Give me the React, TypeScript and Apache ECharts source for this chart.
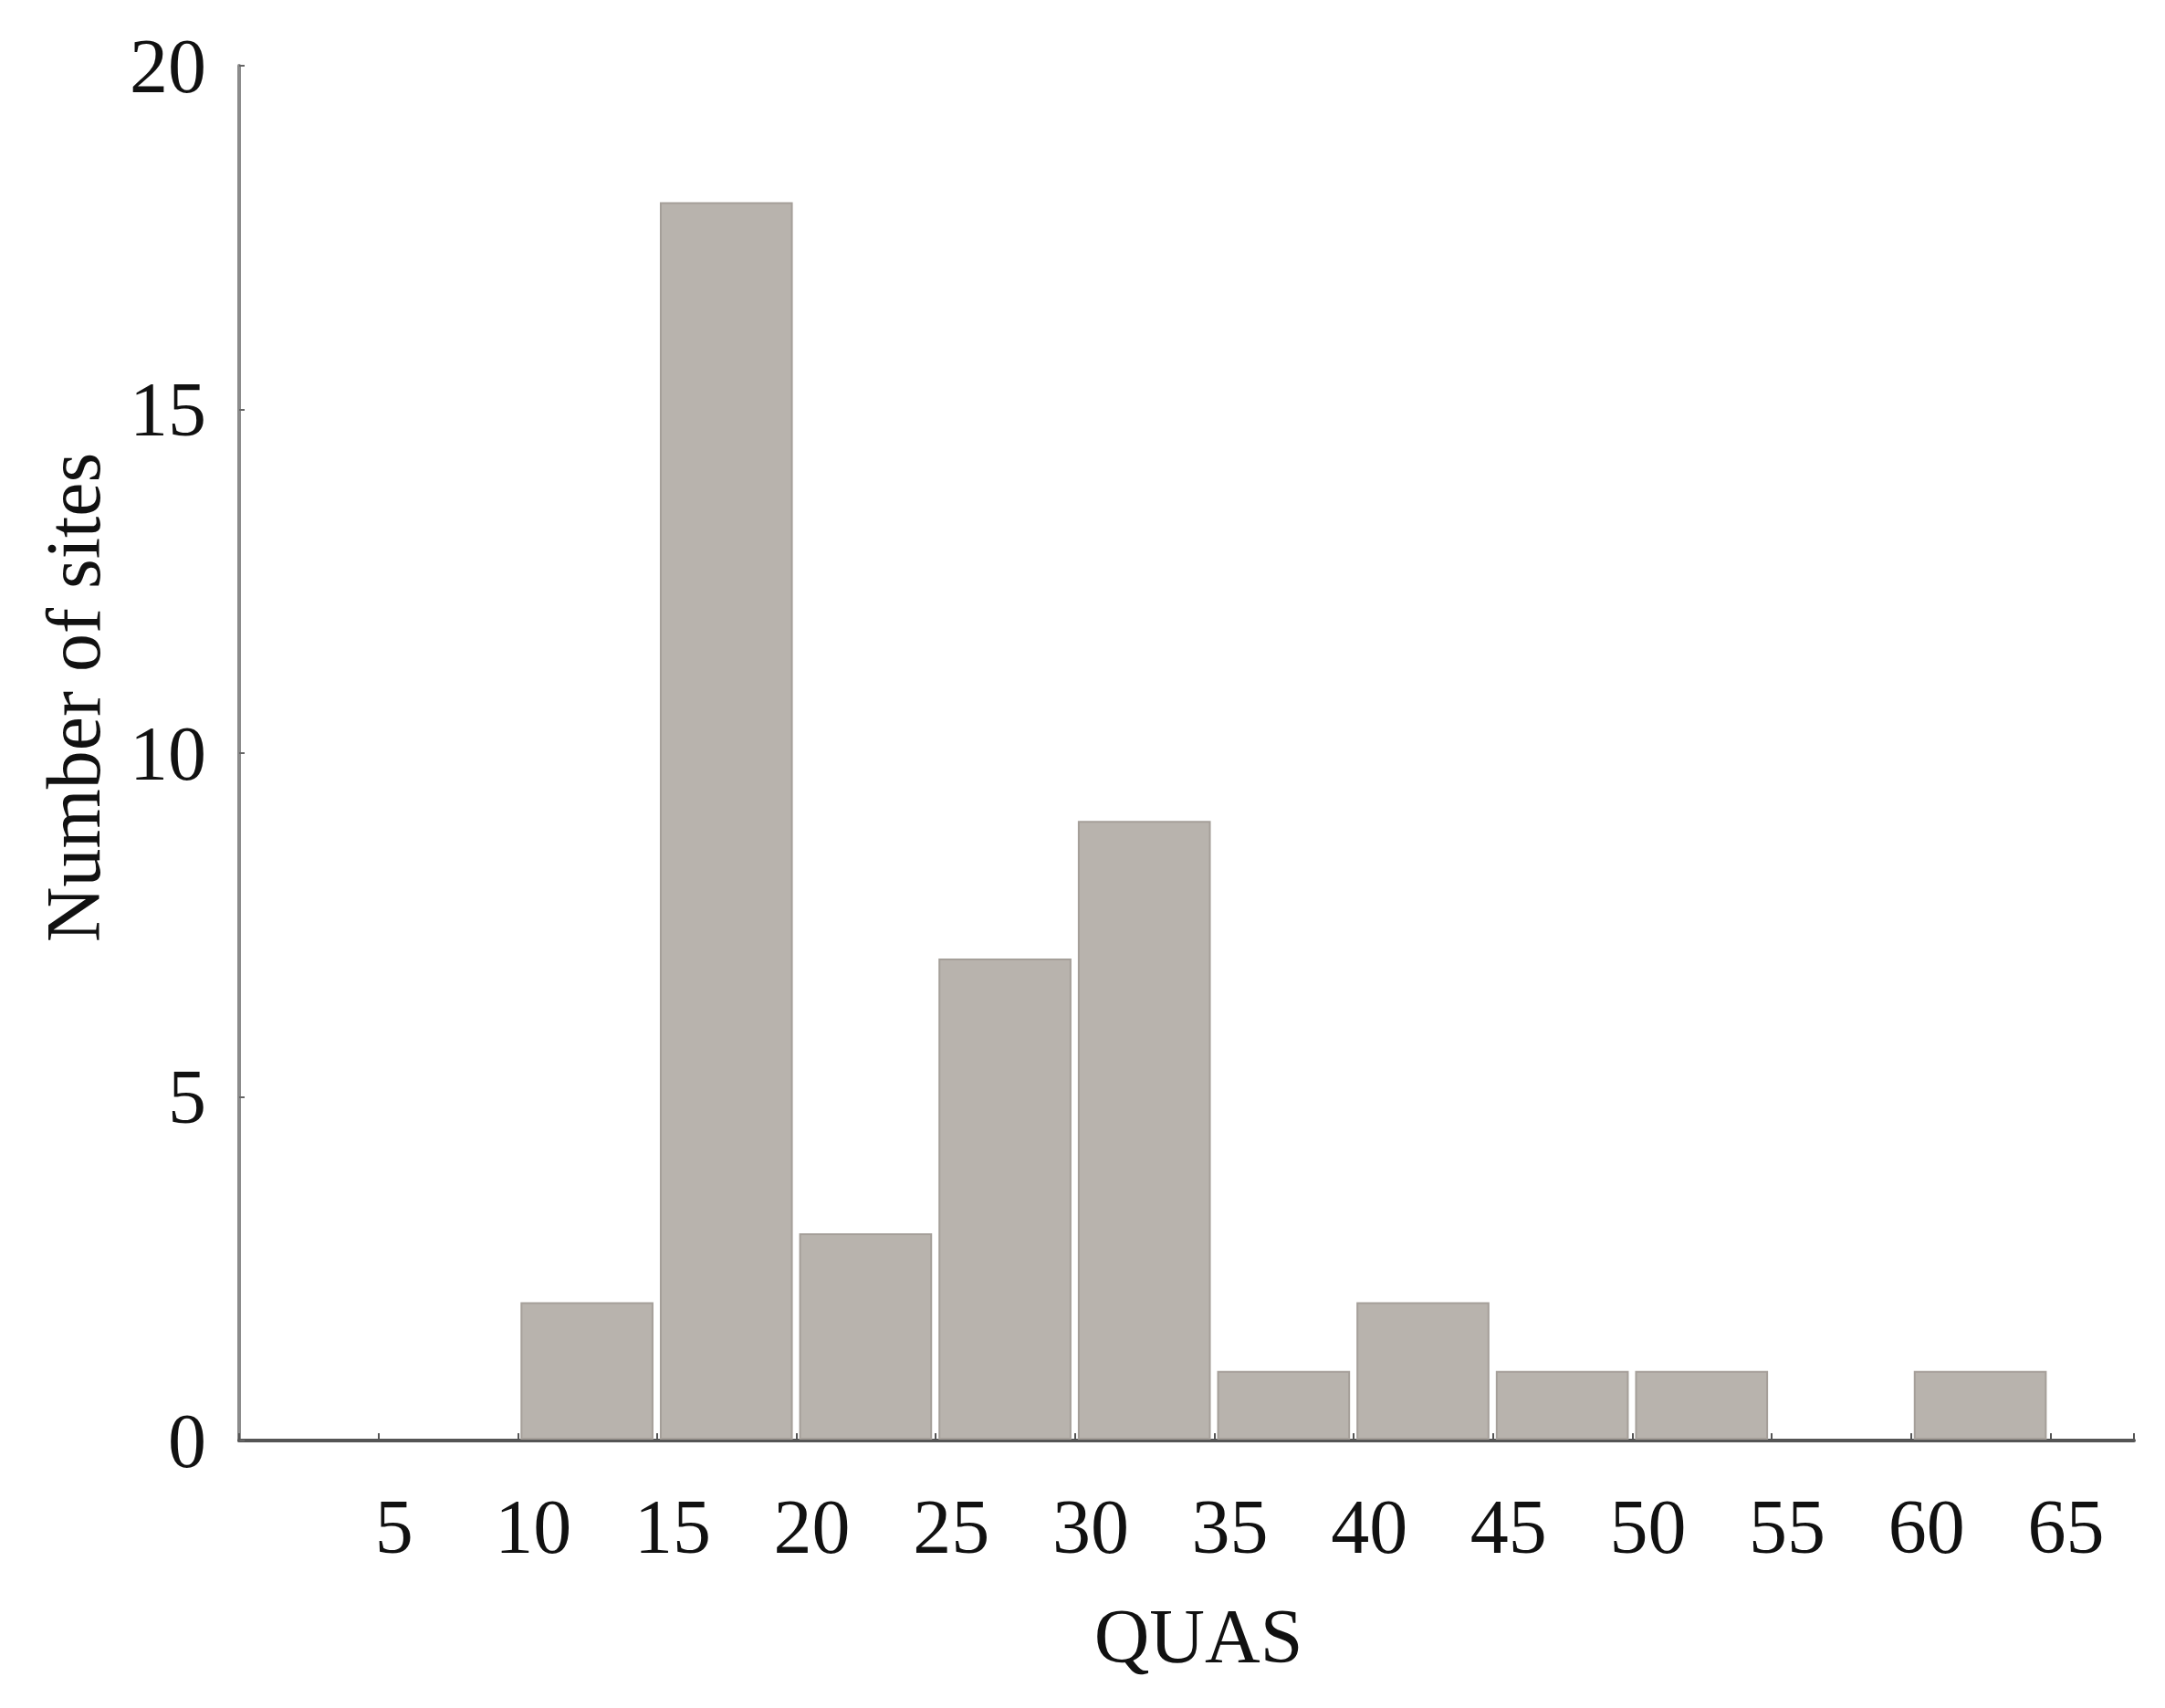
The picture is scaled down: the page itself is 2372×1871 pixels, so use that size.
import React, { useEffect, useRef } from "react";
import * as echarts from "echarts";

const binStarts = [10, 15, 20, 25, 30, 35, 40, 45, 50, 55, 60];
const binWidth = 5;
const counts = [2, 18, 3, 7, 9, 1, 2, 1, 1, 0, 1];
const xAxisName = "QUAS";
const yAxisName = "Number of sites";

const FONT = "'Liberation Serif', 'Times New Roman', serif";

export default function App() {
  const ref = useRef<HTMLDivElement>(null);
  useEffect(() => {
    if (!ref.current) return;
    const chart = echarts.init(ref.current, undefined, { renderer: "svg" });
    const data = binStarts.map((s, i) => [s, s + binWidth, counts[i]]);
    chart.setOption({
      animation: false,
      backgroundColor: "#ffffff",
      grid: { left: 262, top: 72, right: 34, bottom: 293, containLabel: false },
      xAxis: {
        type: "value",
        min: 0,
        max: 68,
        interval: 5,
        name: xAxisName,
        nameLocation: "middle",
        nameGap: 172,
        nameTextStyle: { fontFamily: FONT, fontSize: 84, color: "#111", padding: [0, 0, 0, 26] },
        splitLine: { show: false },
        axisLine: { show: true, lineStyle: { color: "#555555", width: 4 } },
        axisTick: { show: true, inside: true, length: 8, lineStyle: { color: "#555555", width: 2 } },
        axisLabel: {
          fontFamily: FONT,
          fontSize: 84,
          color: "#111",
          margin: 52,
          padding: [0, 0, 0, 34],
          formatter: (v: number) => (v === 0 || v % 5 !== 0 ? "" : String(v)),
        },
      },
      yAxis: {
        type: "value",
        min: 0,
        max: 20,
        interval: 5,
        name: yAxisName,
        nameLocation: "middle",
        nameGap: 140,
        nameRotate: 90,
        nameTextStyle: { fontFamily: FONT, fontSize: 84, color: "#111", padding: [0, 0, 0, 122] },
        splitLine: { show: false },
        axisLine: { show: true, lineStyle: { color: "#8c8c8c", width: 4 } },
        axisTick: { show: true, inside: true, length: 6, lineStyle: { color: "#666", width: 2 } },
        axisLabel: {
          fontFamily: FONT,
          fontSize: 84,
          color: "#111",
          margin: 36,
          padding: [0, 0, 18, 0],
        },
      },
      series: [
        {
          type: "custom",
          data,
          encode: { x: [0, 1], y: 2 },
          renderItem: (params: any, api: any) => {
            const start = api.value(0);
            const end = api.value(1);
            const c = api.value(2);
            if (!c) return null;
            const p0 = api.coord([start, c]);
            const p1 = api.coord([end, 0]);
            return {
              type: "rect",
              shape: {
                x: p0[0] + 4,
                y: p0[1],
                width: p1[0] - p0[0] - 9,
                height: p1[1] - p0[1] - 2,
              },
              style: { fill: "#b8b3ad", stroke: "#a59f99", lineWidth: 2 },
            };
          },
        },
      ],
    });
    return () => chart.dispose();
  }, []);
  return (
    <div
      ref={ref}
      style={{ position: "absolute", left: 0, top: 0, width: 2372, height: 1871, background: "#fff" }}
    />
  );
}
